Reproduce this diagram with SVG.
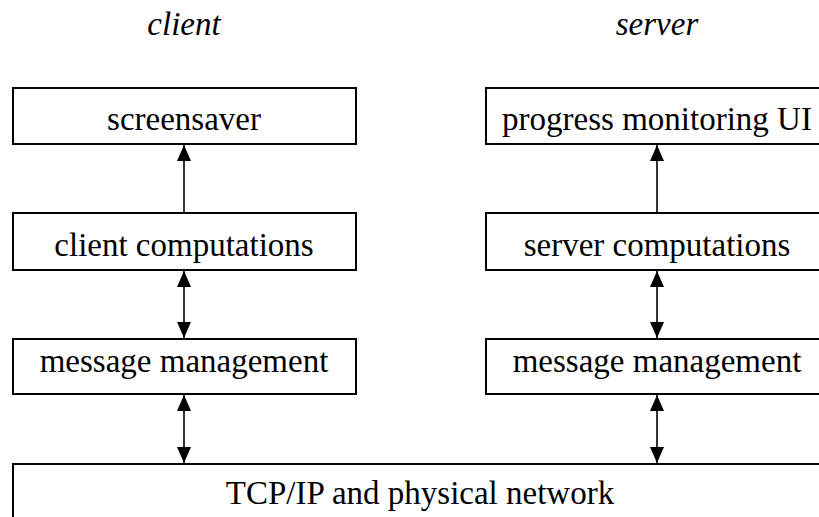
<svg xmlns="http://www.w3.org/2000/svg" width="819" height="517" viewBox="0 0 819 517">
<defs>
<style>
.box{fill:#fff;stroke:#000;stroke-width:2}
.t{font-family:'Liberation Serif','Times New Roman','DejaVu Serif',serif;font-size:33px;fill:#000;text-anchor:middle}
.h{font-style:italic}
.c{stroke:#000;stroke-width:1.6;fill:none}
</style>
<marker id="ah" viewBox="0 0 16 14" refX="16" refY="7" markerWidth="16" markerHeight="14" markerUnits="userSpaceOnUse" orient="auto-start-reverse">
<path d="M0,0 L16,7 L0,14 Z" fill="#000"/>
</marker>
</defs>
<rect width="819" height="517" fill="#fff"/>
<text class="t h" x="184" y="35" font-family="Liberation Serif, serif">client</text>
<text class="t h" x="657" y="35" font-family="Liberation Serif, serif">server</text>
<g id="screensaver"><rect class="box" x="13" y="88" width="343" height="56"/><text class="t" x="184" y="130" font-family="Liberation Serif, serif">screensaver</text></g>
<g id="client-comp"><rect class="box" x="13" y="213" width="343" height="57"/><text class="t" x="184" y="256" font-family="Liberation Serif, serif">client computations</text></g>
<g id="client-msg"><rect class="box" x="13" y="339" width="343" height="55"/><text class="t" x="184" y="372" font-family="Liberation Serif, serif">message management</text></g>
<g id="progress-ui"><rect class="box" x="486" y="88" width="345" height="56"/><text class="t" x="657" y="130" font-family="Liberation Serif, serif">progress monitoring UI</text></g>
<g id="server-comp"><rect class="box" x="486" y="213" width="345" height="57"/><text class="t" x="657" y="256" font-family="Liberation Serif, serif">server computations</text></g>
<g id="server-msg"><rect class="box" x="486" y="339" width="345" height="55"/><text class="t" x="657" y="372" font-family="Liberation Serif, serif">message management</text></g>
<g id="tcp"><rect class="box" x="13" y="464" width="820" height="70"/><text class="t" x="420" y="504" font-family="Liberation Serif, serif">TCP/IP and physical network</text></g>
<g id="connectors">
<line class="c" x1="184" y1="213" x2="184" y2="145" marker-end="url(#ah)"/>
<line class="c" x1="657" y1="213" x2="657" y2="145" marker-end="url(#ah)"/>
<line class="c" x1="184" y1="271" x2="184" y2="338" marker-start="url(#ah)" marker-end="url(#ah)"/>
<line class="c" x1="657" y1="271" x2="657" y2="338" marker-start="url(#ah)" marker-end="url(#ah)"/>
<line class="c" x1="184" y1="395" x2="184" y2="463" marker-start="url(#ah)" marker-end="url(#ah)"/>
<line class="c" x1="657" y1="395" x2="657" y2="463" marker-start="url(#ah)" marker-end="url(#ah)"/>
</g>
</svg>
